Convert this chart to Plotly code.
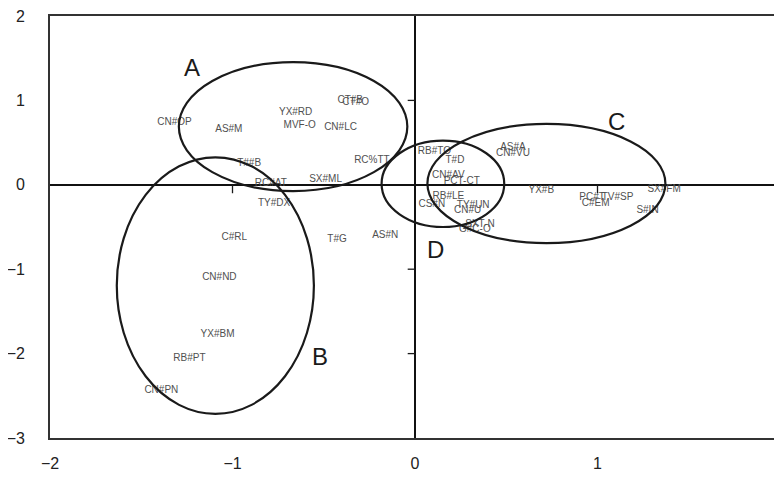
import plotly.graph_objects as go

# Point labels and coordinates
labels = ["CN#OP", "AS#M", "YX#RD", "MVF-O", "CN#LC", "CT#B", "CT#O", "T##B",
          "RC#AT", "SX#ML", "RC%TT", "TY#DX", "C#RL", "T#G", "AS#N", "CN#ND",
          "YX#BM", "RB#PT", "CN#PN", "RB#TO", "T#D", "CN#AV", "PCT-CT", "RB#LE",
          "CS#N", "TY#UN", "CN#U", "SXT-N", "G#C-O", "AS#A", "CN#VU", "YX#B",
          "PC#T", "TV#SP", "C#EM", "SX#FM", "S#IN"]
x_vals = [-1.318, -1.02, -0.654, -0.632, -0.408, -0.355, -0.325, -0.909,
          -0.79, -0.49, -0.236, -0.772, -0.99, -0.427, -0.163, -1.072,
          -1.082, -1.236, -1.39, 0.106, 0.219, 0.183, 0.256, 0.183,
          0.092, 0.319, 0.288, 0.356, 0.328, 0.537, 0.537, 0.692,
          0.97, 1.11, 0.99, 1.365, 1.274]
y_vals = [0.738, 0.655, 0.854, 0.70, 0.68, 1.00, 0.97, 0.258,
          0.015, 0.068, 0.286, -0.22, -0.62, -0.647, -0.595, -1.095,
          -1.77, -2.056, -2.44, 0.397, 0.286, 0.107, 0.04, -0.139,
          -0.23, -0.25, -0.31, -0.468, -0.527, 0.444, 0.365, -0.063,
          -0.15, -0.15, -0.222, -0.05, -0.30]

# Cluster ellipses
group_names = ["A", "B", "C", "D"]
ell_cx = [-0.668, -1.094, 0.72, 0.153]
ell_cy = [0.69, -1.194, 0.015, 0.012]
ell_rx = [0.626, 0.540, 0.652, 0.336]
ell_ry = [0.764, 1.52, 0.706, 0.512]
group_label_x = [-1.22, -0.521, 1.105, 0.112]
group_label_y = [1.393, -2.036, 0.75, -0.762]

# Tick marks drawn on the zero axes
x_axis_ticks = [-1, 1]
y_axis_ticks = [1, -1, -2]

fig = go.Figure()
fig.add_trace(go.Scatter(
    x=x_vals, y=y_vals, mode="text", text=labels,
    textfont=dict(family="Liberation Sans, Arial, sans-serif", size=10, color="#505050"),
    hoverinfo="skip", showlegend=False,
))

shapes = []
for cx, cy, rx, ry in zip(ell_cx, ell_cy, ell_rx, ell_ry):
    shapes.append(dict(type="circle", xref="x", yref="y",
                       x0=cx - rx, x1=cx + rx, y0=cy - ry, y1=cy + ry,
                       line=dict(color="#1a1a1a", width=2.2)))
for t in x_axis_ticks:
    shapes.append(dict(type="line", xref="x", yref="y", x0=t, x1=t, y0=0, y1=-0.1,
                       line=dict(color="#1a1a1a", width=1.3)))
for t in y_axis_ticks:
    shapes.append(dict(type="line", xref="x", yref="y", x0=0, x1=-0.04, y0=t, y1=t,
                       line=dict(color="#1a1a1a", width=1.3)))

annotations = []
for name, gx, gy in zip(group_names, group_label_x, group_label_y):
    annotations.append(dict(x=gx, y=gy, xref="x", yref="y", text=name, showarrow=False,
                            font=dict(family="Liberation Sans, Arial, sans-serif",
                                      size=24, color="#1a1a1a")))

# The page body adds an 8px offset, so the figure is sized to fit inside it
fig.update_layout(
    width=774, height=471,
    margin=dict(l=42, r=2, t=8, b=41, autoexpand=False),
    paper_bgcolor="white", plot_bgcolor="white",
    shapes=shapes, annotations=annotations,
    font=dict(family="Liberation Sans, Arial, sans-serif", size=16, color="#222"),
)
fig.update_xaxes(range=[-2, 2], tickvals=[-2, -1, 0, 1, 2], showgrid=False,
                 zeroline=True, zerolinecolor="#111", zerolinewidth=1.8,
                 showline=True, mirror=True, linecolor="#333", linewidth=1.8,
                 ticks="", ticklabelstandoff=10, ticklabeloverflow="allow",
                 automargin=False, tickfont=dict(size=16))
fig.update_yaxes(range=[-3, 2], tickvals=[-3, -2, -1, 0, 1, 2], showgrid=False,
                 zeroline=True, zerolinecolor="#111", zerolinewidth=1.8,
                 showline=True, mirror=True, linecolor="#333", linewidth=1.8,
                 ticks="", ticklabelstandoff=20, ticklabeloverflow="allow",
                 automargin=False, tickfont=dict(size=16))

fig.write_html("out.html")
